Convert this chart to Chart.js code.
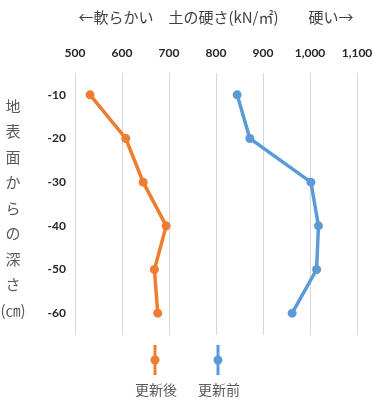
<!DOCTYPE html>
<html>
<head>
<meta charset="utf-8">
<script src="https://cdn.jsdelivr.net/npm/chart.js@4/dist/chart.umd.min.js"></script>
<style>
  body { margin: 0; background: #fff; }
</style>
</head>
<body>
<canvas id="grafico" width="373" height="400"></canvas>
<script>
// depth (cm) and hardness (kN/m2)
const depths = [-10, -20, -30, -40, -50, -60];
const afterValues = [532, 608, 645, 694, 669, 676];   // 更新後
const beforeValues = [845, 872, 1002, 1018, 1014, 962]; // 更新前
const seriesNames = ['更新後', '更新前'];
const yTitleChars = ['地', '表', '面', 'か', 'ら', 'の', '深', 'さ', '(㎝)'];

const jp = '"Noto Sans CJK JP", sans-serif';
const num = 'Lato, "Noto Sans", sans-serif';

// vertical y-axis title + excel style legend under the plot
const extras = {
  id: 'extras',
  afterDraw(chart) {
    const c = chart.ctx;
    const area = chart.chartArea;
    c.save();
    c.fillStyle = '#595959';
    c.font = '15px ' + jp;
    c.textAlign = 'center';
    c.textBaseline = 'middle';
    yTitleChars.forEach((ch, i) => {
      c.fillText(ch, 13, 106 + i * 25.5);
    });

    const cx = chart.width / 2;
    const gap = 63;
    chart.data.datasets.forEach((ds, i) => {
      const x = cx + (i - 0.5) * gap;
      c.strokeStyle = ds.borderColor;
      c.lineWidth = 3;
      c.beginPath();
      c.moveTo(x, area.bottom + 10);
      c.lineTo(x, area.bottom + 40);
      c.stroke();
      c.fillStyle = ds.borderColor;
      c.beginPath();
      c.arc(x, area.bottom + 25, 4.5, 0, Math.PI * 2);
      c.fill();
      c.fillStyle = '#595959';
      c.font = '14px ' + jp;
      c.fillText(ds.label, x + 1, area.bottom + 55);
    });
    c.restore();
  }
};

const ctx = document.getElementById('grafico').getContext('2d');
const myChart = new Chart(ctx, {
  type: 'line',
  data: {
    labels: depths.map(d => String(d)),
    datasets: [{
      label: seriesNames[0],
      data: afterValues,
      borderColor: '#ED7D31',
      backgroundColor: '#ED7D31',
      borderWidth: 3.5,
      pointRadius: 4.5,
      pointHoverRadius: 4.5,
      pointBorderWidth: 0
    }, {
      label: seriesNames[1],
      data: beforeValues,
      borderColor: '#5B9BD5',
      backgroundColor: '#5B9BD5',
      borderWidth: 3.5,
      pointRadius: 4.5,
      pointHoverRadius: 4.5,
      pointBorderWidth: 0
    }]
  },
  options: {
    indexAxis: 'y',
    responsive: false,
    animation: false,
    locale: 'en-US',
    layout: { padding: { left: 30, right: 16, bottom: 65, top: 0 } },
    plugins: {
      legend: { display: false },
      tooltip: { enabled: false },
      title: {
        display: true,
        fullSize: false,
        text: '←軟らかい　土の硬さ(kN/㎡)　　硬い→',
        color: '#404040',
        font: { family: jp, size: 15, weight: 'normal' },
        padding: { top: 8, bottom: 6 }
      }
    },
    scales: {
      x: {
        type: 'linear',
        position: 'top',
        min: 500,
        max: 1100,
        ticks: {
          stepSize: 100,
          padding: 13,
          color: '#262626',
          font: { family: num, size: 12, weight: 'bold' }
        },
        grid: { color: '#d9d9d9', lineWidth: 1, drawTicks: false },
        border: { display: false },
        afterFit(scale) {
          scale.height = 41;
          scale.paddingLeft = 0;
          scale.paddingRight = 0;
        }
      },
      y: {
        type: 'category',
        offset: true,
        ticks: {
          padding: 9,
          color: '#262626',
          font: { family: num, size: 12, weight: 'bold' }
        },
        grid: { display: false, drawTicks: false },
        border: { display: false },
        afterFit(scale) {
          scale.width = 45;
          scale.paddingTop = 0;
          scale.paddingBottom = 0;
        }
      }
    }
  },
  plugins: [extras]
});
</script>
</body>
</html>
